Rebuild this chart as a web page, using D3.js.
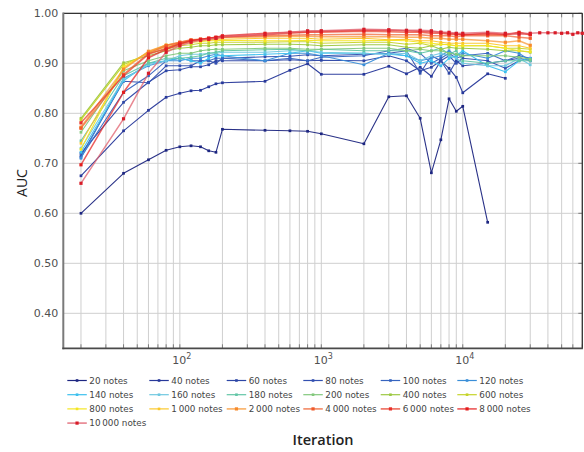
<!DOCTYPE html>
<html><head><meta charset="utf-8">
<script src="https://cdn.jsdelivr.net/npm/d3@7"></script>
<style>body{margin:0;background:#fff}svg{display:block}</style>
</head><body><svg id="c" width="584" height="452"></svg>
<script>
// ---------- data ----------
const iterations = [20,40,60,80,100,120,140,160,180,200,400,600,800,1000,2000,3000,4000,5000,6000,7000,8000,9000,10000,15000,20000,25000,30000];
const iterationsLong = iterations.concat([35000,40000,45000,50000,55000,60000,65000,70000]);

const seriesNames = ["20 notes","40 notes","60 notes","80 notes","100 notes","120 notes","140 notes","160 notes","180 notes","200 notes","400 notes","600 notes","800 notes","1\u2009000 notes","2\u2009000 notes","4\u2009000 notes","6\u2009000 notes","8\u2009000 notes","10\u2009000 notes"];
const seriesColors = ["#1d2681","#27389a","#2d46a6","#3350b0","#3664bf","#3a8ed8","#3cc0ee","#6fc8e0","#62c6a6","#82c87c","#9cc842","#c6d42a","#f4e622","#fbc82a","#f89a3a","#f06a3a","#e8432f","#e52a2a","#e0606e"];
const markerColors = ["#1d2681","#27389a","#2d46a6","#3350b0","#3664bf","#3a8ed8","#3cc0ee","#6fc8e0","#62c6a6","#82c87c","#9cc842","#c6d42a","#f4e622","#fbc82a","#f88a2a","#f05a2a","#e8302a","#e41c1c","#d81c28"];

const auc20n   = [0.600,0.680,0.707,0.726,0.733,0.735,0.733,0.725,0.722,0.768,0.766,0.765,0.764,0.759,0.739,0.833,0.835,0.790,0.681,0.747,0.829,0.804,0.814,0.582];
const auc40n   = [0.675,0.765,0.806,0.832,0.840,0.845,0.846,0.853,0.859,0.861,0.864,0.886,0.899,0.878,0.878,0.894,0.879,0.892,0.874,0.905,0.890,0.872,0.841,0.879,0.870];
const auc60n   = [0.720,0.822,0.862,0.885,0.887,0.893,0.893,0.897,0.905,0.905,0.905,0.907,0.905,0.906,0.905,0.915,0.905,0.885,0.892,0.905,0.880,0.905,0.895,0.900,0.905,0.910,0.905];
const auc80n   = [0.715,0.864,0.861,0.895,0.895,0.895,0.905,0.905,0.900,0.910,0.913,0.914,0.917,0.915,0.918,0.920,0.925,0.880,0.915,0.905,0.915,0.900,0.910,0.905,0.890,0.905,0.910];
const auc100n  = [0.712,0.842,0.875,0.905,0.910,0.905,0.905,0.905,0.910,0.910,0.905,0.910,0.905,0.912,0.915,0.925,0.930,0.920,0.900,0.910,0.920,0.910,0.915,0.920,0.905,0.915,0.910];
const auc120n  = [0.710,0.870,0.895,0.905,0.905,0.910,0.910,0.915,0.918,0.915,0.905,0.920,0.920,0.915,0.897,0.920,0.915,0.905,0.910,0.915,0.925,0.915,0.920,0.910,0.925,0.920,0.905];
const auc140n  = [0.722,0.865,0.900,0.905,0.910,0.905,0.900,0.910,0.915,0.915,0.918,0.920,0.925,0.920,0.920,0.918,0.915,0.900,0.905,0.895,0.910,0.915,0.925,0.895,0.883,0.905,0.910];
const auc160n  = [0.730,0.868,0.897,0.905,0.915,0.918,0.918,0.920,0.920,0.922,0.922,0.925,0.925,0.922,0.920,0.918,0.920,0.905,0.915,0.920,0.915,0.910,0.900,0.895,0.895,0.910,0.897];
const auc180n  = [0.745,0.875,0.900,0.910,0.910,0.912,0.915,0.920,0.922,0.925,0.927,0.928,0.925,0.928,0.925,0.925,0.925,0.920,0.925,0.930,0.918,0.925,0.905,0.900,0.905,0.905,0.905];
const auc200n  = [0.762,0.885,0.905,0.915,0.920,0.920,0.925,0.927,0.928,0.928,0.930,0.930,0.928,0.928,0.930,0.930,0.925,0.928,0.925,0.925,0.920,0.918,0.915,0.915,0.915,0.912,0.908];
const auc400n  = [0.790,0.901,0.915,0.925,0.930,0.932,0.935,0.935,0.937,0.937,0.938,0.938,0.937,0.935,0.937,0.937,0.932,0.930,0.935,0.928,0.932,0.930,0.930,0.928,0.925,0.925,0.922];
const auc600n  = [0.787,0.897,0.920,0.928,0.935,0.937,0.940,0.940,0.942,0.942,0.942,0.943,0.943,0.940,0.942,0.942,0.938,0.940,0.935,0.938,0.937,0.935,0.935,0.935,0.930,0.930,0.928];
const auc800n  = [0.728,0.893,0.922,0.933,0.938,0.942,0.943,0.945,0.945,0.946,0.945,0.945,0.946,0.945,0.945,0.946,0.945,0.942,0.940,0.938,0.937,0.935,0.935,0.935,0.930,0.925,0.923];
const auc1000n = [0.740,0.890,0.923,0.937,0.940,0.944,0.946,0.946,0.948,0.948,0.950,0.950,0.950,0.948,0.950,0.947,0.948,0.945,0.945,0.942,0.940,0.940,0.940,0.940,0.935,0.935,0.930];
const auc2000n = [0.772,0.888,0.924,0.936,0.942,0.946,0.948,0.948,0.950,0.952,0.953,0.954,0.954,0.953,0.953,0.953,0.952,0.952,0.950,0.950,0.948,0.948,0.948,0.945,0.942,0.945,0.936];
const auc4000n = [0.770,0.878,0.920,0.935,0.942,0.947,0.948,0.950,0.950,0.952,0.955,0.956,0.957,0.957,0.958,0.957,0.957,0.957,0.955,0.955,0.955,0.953,0.955,0.955,0.955,0.952,0.950];
const auc6000n = [0.781,0.875,0.918,0.930,0.940,0.945,0.947,0.950,0.952,0.953,0.957,0.960,0.962,0.962,0.964,0.963,0.962,0.962,0.960,0.960,0.958,0.958,0.957,0.958,0.957,0.960,0.957];
const auc8000n = [0.697,0.842,0.911,0.928,0.938,0.945,0.948,0.950,0.952,0.955,0.960,0.962,0.963,0.964,0.966,0.966,0.965,0.964,0.963,0.962,0.960,0.959,0.957,0.960,0.958,0.962,0.958];
const auc10000n= [0.660,0.789,0.880,0.922,0.935,0.942,0.946,0.948,0.950,0.953,0.958,0.962,0.965,0.965,0.968,0.967,0.966,0.966,0.965,0.962,0.962,0.960,0.960,0.962,0.960,0.958,0.960,0.961,0.961,0.961,0.960,0.961,0.958,0.961,0.960];

const seriesValues = [auc20n,auc40n,auc60n,auc80n,auc100n,auc120n,auc140n,auc160n,auc180n,auc200n,auc400n,auc600n,auc800n,auc1000n,auc2000n,auc4000n,auc6000n,auc8000n,auc10000n];
const yTicks = [0.40,0.50,0.60,0.70,0.80,0.90,1.00];
const xTickExponents = [2,3,4];

// ---------- layout ----------
const L = 63.3, R = 582.3, T = 13.3, B = 348.3;
const svg = d3.select("#c");
const x = d3.scaleLog().domain([15, 70000]).range([L, R]);
const y = d3.scaleLinear().domain([0.33, 1.0]).range([B, T]);
const FONT = "DejaVu Sans, sans-serif";

// grid
const minorX = [];
for (let e = 1; e <= 4; e++) for (let m = 1; m <= 9; m++) { const v = m * Math.pow(10, e); if (v >= 15 && v <= 70000) minorX.push(v); }
const g = svg.append("g");
g.selectAll("line.vx").data(minorX).enter().append("line")
  .attr("x1", d => x(d)).attr("x2", d => x(d)).attr("y1", T).attr("y2", B)
  .attr("stroke", "#cfcfcf").attr("stroke-width", 1);
g.selectAll("line.hy").data(yTicks).enter().append("line")
  .attr("x1", L).attr("x2", R).attr("y1", d => y(d)).attr("y2", d => y(d))
  .attr("stroke", "#cfcfcf").attr("stroke-width", 1);

// tick marks (inward)
g.selectAll("line.tb").data(minorX).enter().append("line")
  .attr("x1", d => x(d)).attr("x2", d => x(d)).attr("y1", B).attr("y2", B - 4)
  .attr("stroke", "#666").attr("stroke-width", 0.8);
g.selectAll("line.tt").data(minorX).enter().append("line")
  .attr("x1", d => x(d)).attr("x2", d => x(d)).attr("y1", T).attr("y2", T + 4)
  .attr("stroke", "#666").attr("stroke-width", 0.8);
g.selectAll("line.tr").data(yTicks).enter().append("line")
  .attr("x1", R - 4).attr("x2", R).attr("y1", d => y(d)).attr("y2", d => y(d))
  .attr("stroke", "#666").attr("stroke-width", 0.8);

// frame
svg.append("line").attr("x1", L).attr("x2", R).attr("y1", T).attr("y2", T).attr("stroke", "#333").attr("stroke-width", 1.3);
svg.append("line").attr("x1", R).attr("x2", R).attr("y1", T).attr("y2", B).attr("stroke", "#333").attr("stroke-width", 1.3);

// series
const line = d3.line().x(d => x(d[0])).y(d => y(d[1]));
seriesValues.forEach((vals, i) => {
  const its = vals.length > iterations.length ? iterationsLong : iterations;
  const pts = vals.map((v, k) => [its[k], v]);
  const late = i >= 14;
  const sg = svg.append("g");
  sg.append("path").datum(pts).attr("d", line).attr("fill", "none")
    .attr("stroke", seriesColors[i]).attr("stroke-width", late ? 1.5 : 1.1)
    .attr("stroke-opacity", late ? 0.75 : 0.95).attr("stroke-linejoin", "round");
  const s = late ? 3.2 : 2.7;
  sg.selectAll("rect").data(pts).enter().append("rect")
    .attr("x", d => x(d[0]) - s / 2).attr("y", d => y(d[1]) - s / 2)
    .attr("width", s).attr("height", s).attr("fill", markerColors[i]);
});

// left & bottom axes (gray)
svg.append("line").attr("x1", L).attr("x2", L).attr("y1", T - 0.7).attr("y2", B + 1).attr("stroke", "#7a7a7a").attr("stroke-width", 2);
svg.append("line").attr("x1", L - 1).attr("x2", R + 0.6).attr("y1", B).attr("y2", B).attr("stroke", "#4a4a4a").attr("stroke-width", 1.8);

// y tick labels
svg.selectAll("text.yt").data(yTicks).enter().append("text")
  .attr("x", L - 5).attr("y", d => y(d)).attr("dy", "0.36em")
  .attr("text-anchor", "end").attr("font-family", FONT).attr("font-size", 11)
  .attr("fill", "#505050").text(d => d.toFixed(2));

// x tick labels 10^n
const xt = svg.selectAll("text.xt").data(xTickExponents).enter().append("text")
  .attr("x", d => x(Math.pow(10, d)) + 2).attr("y", 364)
  .attr("text-anchor", "middle").attr("font-family", FONT).attr("font-size", 11)
  .attr("fill", "#505050");
xt.append("tspan").text("10");
xt.append("tspan").attr("dy", -5).attr("font-size", 8).text(d => d);

// axis titles
svg.append("text").attr("transform", "translate(27,183) rotate(-90)")
  .attr("text-anchor", "middle").attr("font-family", "Open Sans, sans-serif")
  .attr("font-size", 14).attr("fill", "#222").text("AUC");
svg.append("text").attr("x", 323).attr("y", 445)
  .attr("text-anchor", "middle").attr("font-family", "Open Sans, sans-serif")
  .attr("font-weight", 600).attr("font-size", 14.5).attr("fill", "#222").text("Iteration");

// legend
const legCols = [67.3, 149.3, 226.7, 303.3, 380.7, 457.3];
const legRows = [380.5, 394.7, 408.9, 423.1];
seriesNames.forEach((name, i) => {
  const cx = legCols[i % 6], cy = legRows[Math.floor(i / 6)];
  const late = i >= 14;
  const lg = svg.append("g");
  lg.append("line").attr("x1", cx).attr("x2", cx + 19.5).attr("y1", cy).attr("y2", cy)
    .attr("stroke", seriesColors[i]).attr("stroke-width", late ? 1.8 : 1.2).attr("stroke-opacity", late ? 0.7 : 1);
  const s = late ? 3.2 : 2.6;
  lg.append("rect").attr("x", cx + 9.75 - s / 2).attr("y", cy - s / 2).attr("width", s).attr("height", s).attr("fill", markerColors[i]);
  lg.append("text").attr("x", cx + 22).attr("y", cy).attr("dy", "0.35em")
    .attr("font-family", FONT).attr("font-size", 8.8).attr("fill", "#444").text(name);
});
</script></body></html>
